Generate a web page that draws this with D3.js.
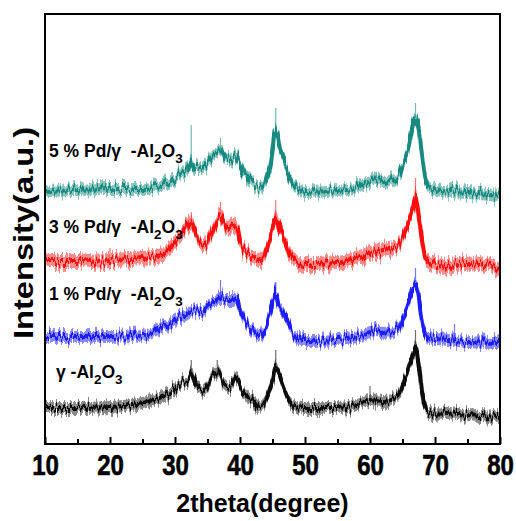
<!DOCTYPE html>
<html lang="en">
<head>
<meta charset="UTF-8" />
<title>XRD patterns</title>
<script src="https://cdn.jsdelivr.net/npm/d3@7"></script>
<style>
  body { margin: 0; background: #fff; }
  text { font-family: "Liberation Sans", Arial, sans-serif; font-weight: bold; fill: #000; }
</style>
</head>
<body>
<div id="chart"></div>
<script>
// 2theta positions and intensities (a.u., curves already stacked)
const thetaTeal = [10,15,20,25,28,30,31,32,32.5,33,34,35,36,37,38,39,39.5,40,41,42,43,44,44.8,45.5,46.2,46.8,47.5,48,49,50,55,58,60,61,62,63,64,65,65.5,66,66.5,67,67.5,68,68.5,69,70,75,80];
const pd5 = [253,254,255,255,259,266,272,276,284,277,277,282,289,294,284,287,289,279,266,259,256,262,284,316,294,284,269,262,255,252,254,257,263,266,262,263,266,276,286,299,316,326,316,289,266,257,254,251,248];

const thetaRed = [10,15,20,25,28,30,31,32.5,33.5,34.5,36,37,38,39.5,40,41,43,44,45,45.5,46.5,47.5,49,50,55,58,60,62,64,65,66,66.5,67,67.5,68,68.5,69,72,75,80];
const pd3 = [183,183,184,186,189,202,209,222,206,199,216,229,216,219,202,192,184,192,216,226,209,192,182,180,181,186,191,194,197,207,224,234,247,227,204,187,182,179,181,176];

const thetaBlue = [10,15,20,25,28,30,32,33,34,35,36,37,38,39,39.5,40,41,42,43,44,45,45.5,46,46.5,47.5,48.5,50,55,58,60,61,62,64,65,66,66.5,67,67.5,68,68.5,69,72,75,80];
const pd1 = [107,107,107,109,117,124,131,134,131,137,142,146,144,144,146,134,122,114,109,117,141,151,137,134,117,107,103,104,107,111,114,111,114,124,144,154,162,147,124,111,106,104,102,101];

const thetaBlack = [10,15,20,25,28,30,31,32,32.5,33.5,34.5,35.5,36.5,37.5,38.5,39.5,40.5,42,43,44,45,45.5,46.5,47.5,48.5,50,55,58,60,62,64,65,66,66.5,67,67.5,68,68.5,69,72,75,80];
const alumina = [36,36,37,41,47,54,61,64,71,57,54,64,71,61,57,67,51,44,37,44,64,77,61,44,37,36,36,39,44,42,47,57,77,87,97,77,51,37,32,31,29,27];

// sharp spikes on top of the noise: [2theta, top intensity]
const spikesTeal = [[32.5,319],[37,306],[45.5,336],[67,341],[61,272]];
const spikesRed = [[32.5,232],[37,242],[45.5,244],[67,266],[20,196]];
const spikesBlue = [[37,164],[45.5,162],[67,176],[73,120]];
const spikesBlack = [[32.5,84],[36.5,84],[45.5,94],[67,114],[60,58]];

const noiseHalf = [6, 7, 6, 6]; // half height of the noise band

const names = ["5 % Pd/\u03b3\u00a0 -Al", "3 % Pd/\u03b3\u00a0 -Al", "1 % Pd/\u03b3\u00a0 -Al", "\u03b3 -Al"];
const colors = ["#178a80", "#ff1010", "#1a1aff", "#111111"];

const series = [
  {x: thetaTeal, y: pd5, spikes: spikesTeal},
  {x: thetaRed, y: pd3, spikes: spikesRed},
  {x: thetaBlue, y: pd1, spikes: spikesBlue},
  {x: thetaBlack, y: alumina, spikes: spikesBlack}
];

const width = 516, height = 521;
const margin = {top: 14, right: 16, bottom: 77, left: 45};

const svg = d3.select("#chart").append("svg")
  .attr("width", width).attr("height", height);

const x = d3.scaleLinear().domain([10, 80]).range([margin.left, width - margin.right]);
const y = d3.scaleLinear().domain([0, 430]).range([height - margin.bottom, margin.top]);

const defs = svg.append("defs");
defs.append("clipPath").attr("id", "plotclip").append("rect")
  .attr("x", x(10)).attr("y", y(430)).attr("width", x(80) - x(10)).attr("height", y(0) - y(430));

// jitter filter: only vertical displacement, gives the scan its noisy look
const f = defs.append("filter").attr("id", "jitter")
  .attr("x", "-2%").attr("y", "-40%").attr("width", "104%").attr("height", "180%");
f.append("feTurbulence").attr("type", "fractalNoise")
  .attr("baseFrequency", "0.5 0.02").attr("numOctaves", 2).attr("seed", 3).attr("result", "turb");
f.append("feColorMatrix").attr("in", "turb").attr("type", "matrix")
  .attr("values", "0 0 0 0 0.5  0 1 0 0 0  0 0 1 0 0  0 0 0 0 1").attr("result", "map");
f.append("feDisplacementMap").attr("in", "SourceGraphic").attr("in2", "map")
  .attr("scale", 18).attr("xChannelSelector", "R").attr("yChannelSelector", "G");

const plot = svg.append("g").attr("clip-path", "url(#plotclip)");

series.forEach(function (s, i) {
  const pts = s.x.map(function (t, k) { return [t, s.y[k]]; });
  const g = plot.append("g").attr("filter", "url(#jitter)");
  const band = d3.area()
    .x(function (d) { return x(d[0]); })
    .y0(function (d) { return y(d[1]) + noiseHalf[i]; })
    .y1(function (d) { return y(d[1]) - noiseHalf[i]; })
    .curve(d3.curveMonotoneX);
  g.append("path").datum(pts)
    .attr("d", band)
    .attr("fill", colors[i])
    .attr("fill-opacity", 0.5);

  const line = d3.line()
    .x(function (d) { return x(d[0]); })
    .y(function (d) { return y(d[1]); })
    .curve(d3.curveMonotoneX);
  g.append("path").datum(pts)
    .attr("d", line)
    .attr("fill", "none")
    .attr("stroke", colors[i])
    .attr("stroke-width", 4);

  s.spikes.forEach(function (p) {
    const k = Math.min(d3.bisectLeft(s.x, p[0]), s.x.length - 1);
    plot.append("line")
      .attr("x1", x(p[0])).attr("x2", x(p[0]))
      .attr("y1", y(s.y[k])).attr("y2", y(p[1]))
      .attr("stroke", colors[i])
      .attr("stroke-opacity", 0.6)
      .attr("stroke-width", 1.2);
  });
});

// frame
svg.append("rect")
  .attr("x", x(10)).attr("y", y(430))
  .attr("width", x(80) - x(10)).attr("height", y(0) - y(430))
  .attr("fill", "none").attr("stroke", "#000").attr("stroke-width", 2);

// x axis, ticks inward
const xAxis = d3.axisBottom(x).tickValues(d3.range(10, 81, 5))
  .tickSize(-6).tickPadding(10)
  .tickFormat(function (d) { return d % 10 === 0 ? d : ""; });
const gx = svg.append("g").attr("transform", "translate(0," + y(0) + ")").call(xAxis);
gx.select(".domain").remove();
gx.selectAll(".tick line").attr("stroke", "#000").attr("stroke-width", 2)
  .attr("y2", function (d) { return d % 10 === 0 ? -7 : -5; });
gx.selectAll(".tick text")
  .style("font-family", "'Liberation Sans', Arial, sans-serif")
  .style("font-weight", "bold")
  .style("font-size", "30px")
  .attr("transform", "scale(0.8,1)")
  .attr("fill", "#000")
  .attr("stroke", "#000").attr("stroke-width", 0.6);

svg.append("text")
  .attr("x", (x(10) + x(80)) / 2 - 10).attr("y", 512)
  .attr("text-anchor", "middle")
  .style("font-size", "25px")
  .text("2theta(degree)");

svg.append("text")
  .attr("transform", "translate(33,233) rotate(-90)")
  .attr("text-anchor", "middle")
  .attr("textLength", 212)
  .attr("lengthAdjust", "spacingAndGlyphs")
  .style("font-size", "28px")
  .text("Intensity(a.u.)");

// curve labels
const labelPos = [[49, 157], [49, 233], [49, 300], [56, 378]];
names.forEach(function (n, i) {
  const t = svg.append("text")
    .attr("x", labelPos[i][0]).attr("y", labelPos[i][1])
    .style("font-size", "17.5px");
  t.append("tspan").text(n);
  t.append("tspan").attr("dy", 6).style("font-size", "13.5px").text("2");
  t.append("tspan").attr("dy", -6).text("O");
  t.append("tspan").attr("dy", 6).style("font-size", "13.5px").text("3");
});
</script>
</body>
</html>
